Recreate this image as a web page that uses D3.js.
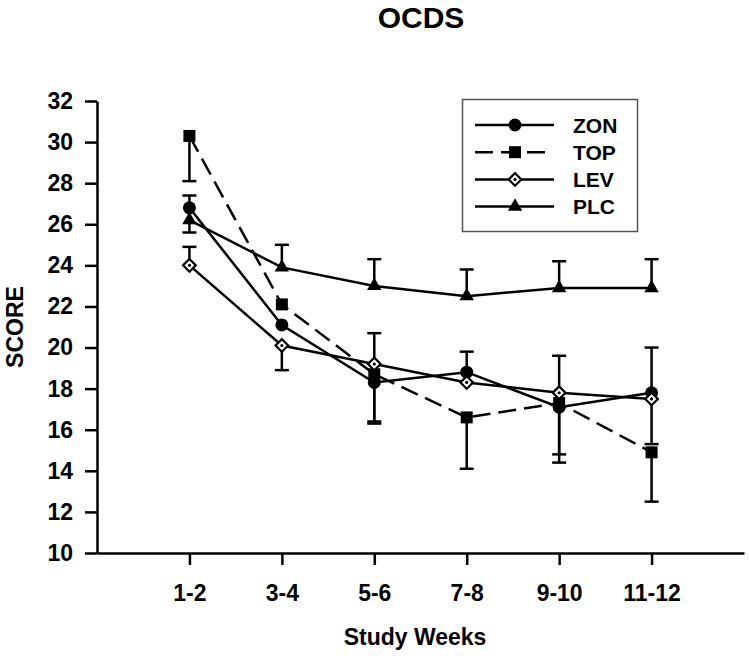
<!DOCTYPE html>
<html lang="en">
<head>
<meta charset="UTF-8">
<title>OCDS</title>
<script src="https://d3js.org/d3.v7.min.js"></script>
<style>
    body { margin: 0; background: #fff; }
    text { font-family: "Liberation Sans", Arial, sans-serif; font-weight: bold; fill: #000; }
</style>
</head>
<body>
<svg width="750" height="656"></svg>
<script>
    // study weeks on the x axis
    const weeks = ["1-2", "3-4", "5-6", "7-8", "9-10", "11-12"];
    const yTicks = [10, 12, 14, 16, 18, 20, 22, 24, 26, 28, 30, 32];

    // mean scores
    const zonScore = [26.8, 21.1, 18.3, 18.8, 17.1, 17.8];
    const topScore = [30.3, 22.1, 18.7, 16.6, 17.3, 14.9];
    const levScore = [24.0, 20.1, 19.2, 18.3, 17.8, 17.5];
    const plcScore = [26.2, 23.9, 23.0, 22.5, 22.9, 22.9];

    // one-sided error bars (0 = not shown)
    const zonUp = [0.6, 0, 0, 1.0, 0, 2.2];
    const zonDown = [0, 0, 2.0, 0, 2.7, 0];
    const topUp = [0, 0, 0, 0, 0, 0];
    const topDown = [2.2, 0, 2.3, 2.5, 2.5, 2.4];
    const levUp = [0.9, 0, 1.5, 0, 1.8, 0];
    const levDown = [0, 1.2, 0, 0, 0, 2.2];
    const plcUp = [0, 1.1, 1.3, 1.3, 1.3, 1.4];
    const plcDown = [0.6, 0, 0, 0, 0, 0];

    const series = [
        { name: "ZON", values: zonScore, up: zonUp, down: zonDown, shape: "circle", dash: null },
        { name: "TOP", values: topScore, up: topUp, down: topDown, shape: "square", dash: "18,8" },
        { name: "LEV", values: levScore, up: levUp, down: levDown, shape: "diamond", dash: null },
        { name: "PLC", values: plcScore, up: plcUp, down: plcDown, shape: "triangle", dash: null }
    ];

    const svg = d3.select("svg");
    const x = d3.scalePoint().domain(weeks).range([97, 744]).padding(1);
    const y = d3.scaleLinear().domain([10, 32]).range([553, 101]);

    // title
    svg.append("text").attr("x", 421).attr("y", 28)
        .attr("text-anchor", "middle").style("font-size", "30px").text("OCDS");

    // axes
    const yAxis = svg.append("g").attr("transform", "translate(97,0)")
        .call(d3.axisLeft(y).tickValues(yTicks).tickSize(12).tickSizeOuter(0).tickPadding(12));
    const xAxis = svg.append("g").attr("transform", "translate(0,553)")
        .call(d3.axisBottom(x).tickSize(12).tickSizeOuter(0).tickPadding(20));
    [yAxis, xAxis].forEach(a => {
        a.selectAll("path, line").attr("stroke", "#000").attr("stroke-width", 2.5);
        a.selectAll("text").style("font-size", "23px").attr("fill", "#000");
    });

    svg.append("text").attr("transform", "translate(23,327) rotate(-90)")
        .attr("text-anchor", "middle").style("font-size", "23px").text("SCORE");
    svg.append("text").attr("x", 415).attr("y", 645)
        .attr("text-anchor", "middle").style("font-size", "23px").text("Study Weeks");

    // error bars
    const bars = svg.append("g").attr("stroke", "#000").attr("stroke-width", 2.5);
    series.forEach(s => {
        s.values.forEach((v, i) => {
            [[s.up[i], 1], [s.down[i], -1]].forEach(([e, sign]) => {
                if (!e) return;
                const cx = x(weeks[i]);
                const end = y(v + sign * e);
                bars.append("line").attr("x1", cx).attr("x2", cx).attr("y1", y(v)).attr("y2", end);
                bars.append("line").attr("x1", cx - 7).attr("x2", cx + 7).attr("y1", end).attr("y2", end);
            });
        });
    });

    // lines
    const line = d3.line().x((d, i) => x(weeks[i])).y(d => y(d));
    series.forEach(s => {
        svg.append("path").datum(s.values)
            .attr("d", line)
            .attr("fill", "none")
            .attr("stroke", "#000")
            .attr("stroke-width", 2.5)
            .attr("stroke-dasharray", s.dash);
    });

    function drawMarker(g, shape, cx, cy) {
        if (shape === "circle") {
            g.append("circle").attr("cx", cx).attr("cy", cy).attr("r", 6.5).attr("fill", "#000");
        } else if (shape === "square") {
            g.append("path").attr("transform", `translate(${cx},${cy})`)
                .attr("d", d3.symbol(d3.symbolSquare, 144)()).attr("fill", "#000");
        } else if (shape === "triangle") {
            g.append("path").attr("transform", `translate(${cx},${cy})`)
                .attr("d", d3.symbol(d3.symbolTriangle, 90)()).attr("fill", "#000");
        } else {
            g.append("path").attr("transform", `translate(${cx},${cy}) rotate(45)`)
                .attr("d", d3.symbol(d3.symbolSquare, 80)())
                .attr("fill", "#fff").attr("stroke", "#000").attr("stroke-width", 2.2);
            g.append("circle").attr("cx", cx).attr("cy", cy).attr("r", 1.6).attr("fill", "#000");
        }
    }

    // markers
    const marks = svg.append("g");
    series.forEach(s => {
        s.values.forEach((v, i) => drawMarker(marks, s.shape, x(weeks[i]), y(v)));
    });

    // legend
    const legend = svg.append("g");
    legend.append("rect").attr("x", 462.5).attr("y", 99.5).attr("width", 175).attr("height", 132)
        .attr("fill", "#fff").attr("stroke", "#555").attr("stroke-width", 1.5);
    series.forEach((s, i) => {
        const ly = 125 + i * 27.2;
        legend.append("line").attr("x1", 475).attr("x2", s.dash ? 545 : 554)
            .attr("y1", ly).attr("y2", ly)
            .attr("stroke", "#000").attr("stroke-width", 2.5)
            .attr("stroke-dasharray", s.dash);
        drawMarker(legend, s.shape, 515, ly);
        legend.append("text").attr("x", 573).attr("y", ly + 7.5)
            .style("font-size", "21px").text(s.name);
    });
</script>
</body>
</html>
